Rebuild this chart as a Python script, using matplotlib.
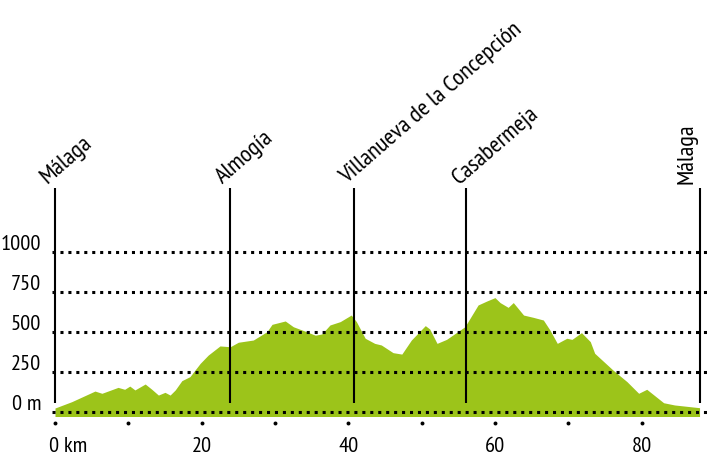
import matplotlib
matplotlib.use('Agg')
import matplotlib.pyplot as plt
from matplotlib import font_manager
from matplotlib.font_manager import FontProperties
from matplotlib.textpath import TextPath

# Elevation profile (km, m)
km = [0, 2.3, 5.45, 6.4, 8.6, 9.5, 10.2, 10.9, 12.3, 13.2, 14.1, 15.0, 15.7, 16.4,
      17.3, 18.4, 19.8, 20.9, 22.5, 23.9, 25.0, 27.05, 28.9, 29.6, 31.4, 32.5, 34.3,
      35.5, 36.4, 37.5, 38.9, 40.4, 41.1, 42.3, 43.6, 44.5, 46.1, 47.3, 48.6, 50.5,
      51.1, 52.1, 53.4, 55.9, 57.7, 58.9, 60.0, 60.7, 61.8, 62.5, 63.9, 65.2, 66.6,
      67.5, 68.5, 69.8, 70.5, 71.8, 73.0, 73.6, 76.1, 78.0, 79.6, 80.7, 83.0, 84.5, 87.9]
elev = [23, 63, 129, 115, 152, 140, 160, 136, 173, 140, 104, 121, 104, 136,
        194, 219, 302, 354, 411, 406, 434, 448, 500, 546, 567, 531, 500,
        478, 486, 542, 563, 604, 563, 459, 427, 417, 369, 360, 448, 538,
        517, 427, 452, 531, 667, 692, 713, 682, 652, 682, 604, 590, 573,
        510, 427, 459, 452, 494, 438, 365, 260, 188, 115, 140, 56, 42, 25]

towns = ['Málaga', 'Almogía', 'Villanueva de la Concepción', 'Casabermeja', 'Málaga']
town_km = [0, 23.9, 40.8, 56.1, 87.9]

grid_levels = [0, 250, 500, 750, 1000]
grid_labels = ['0 m', '250', '500', '750', '1000']
km_ticks = [0, 20, 40, 60, 80]
km_labels = ['0 km', '20', '40', '60', '80']
minor_km = [0, 10, 20, 30, 40, 50, 60, 70, 80]

# the original uses a condensed face; take the first one that is installed
candidates = ['PT Sans Narrow', 'Fira Sans Extra Condensed', 'Open Sans Condensed',
              'Roboto Condensed', 'Fira Sans Condensed', 'Encode Sans Condensed',
              'Asap Condensed', 'Liberation Sans Narrow', 'DejaVu Sans']
names = {f.name for f in font_manager.fontManager.ttflist}
fam = next(c for c in candidates if c in names)
plt.rcParams['font.family'] = [fam, 'DejaVu Sans']


def fit_size(s, width_px, height_px, slack=1.0):
    # font size (pt) so that s is about width_px wide / height_px tall at 100 dpi
    ext = TextPath((0, 0), s, size=10, prop=FontProperties(family=fam)).get_extents()
    fw = width_px / (ext.width / 10 * 100 / 72)
    fh = height_px / (ext.height / 10 * 100 / 72)
    return min(fh, fw * slack)


fs_tick = fit_size('1000', 37, 20, 1.03)
fs_town = fit_size('Villanueva de la Concepción', 232, 27)

green = '#9cc41a'

fig = plt.figure(figsize=(7.12, 4.55), dpi=100)
ax = fig.add_axes([0, 0, 1, 1])
ax.set_xlim(-7.5, 89.6)
ax.set_ylim(-270.6, 2573)
ax.axis('off')

# terrain
ax.fill_between(km, elev, -30, color=green, linewidth=0, zorder=1)

# dotted height lines
for lv in grid_levels:
    ax.plot([-0.4, 89.0], [lv, lv], color='black', lw=2.2,
            linestyle=(0, (1.0, 1.6)), zorder=3)
for lv, lab in zip(grid_levels, grid_labels):
    ax.text(-1.9, lv + 8, lab, ha='right', va='baseline', fontsize=fs_tick)

# km ticks
ax.scatter(minor_km, [-69] * len(minor_km), s=8, color='black', marker='o',
           linewidths=0, zorder=3)
for k, lab in zip(km_ticks, km_labels):
    if k == 0:
        ax.text(k - 0.8, -250, lab, ha='left', va='baseline', fontsize=fs_tick)
    else:
        ax.text(k, -250, lab, ha='center', va='baseline', fontsize=fs_tick)

# towns
ax.vlines(town_km, 52, 1398, color='black', lw=1.5, zorder=4)
for i, (name, k) in enumerate(zip(towns, town_km)):
    if i == len(towns) - 1:
        ax.annotate(name, (k, 1398), xytext=(-1.5, 3), textcoords='offset points',
                    rotation=90, ha='left', va='bottom', rotation_mode='anchor',
                    fontsize=fs_town)
    else:
        ax.annotate(name, (k, 1398), xytext=(-3, 0), textcoords='offset points',
                    rotation=41, ha='left', va='bottom', rotation_mode='anchor',
                    fontsize=fs_town)

fig.savefig('out.png', dpi=100, facecolor='white')
